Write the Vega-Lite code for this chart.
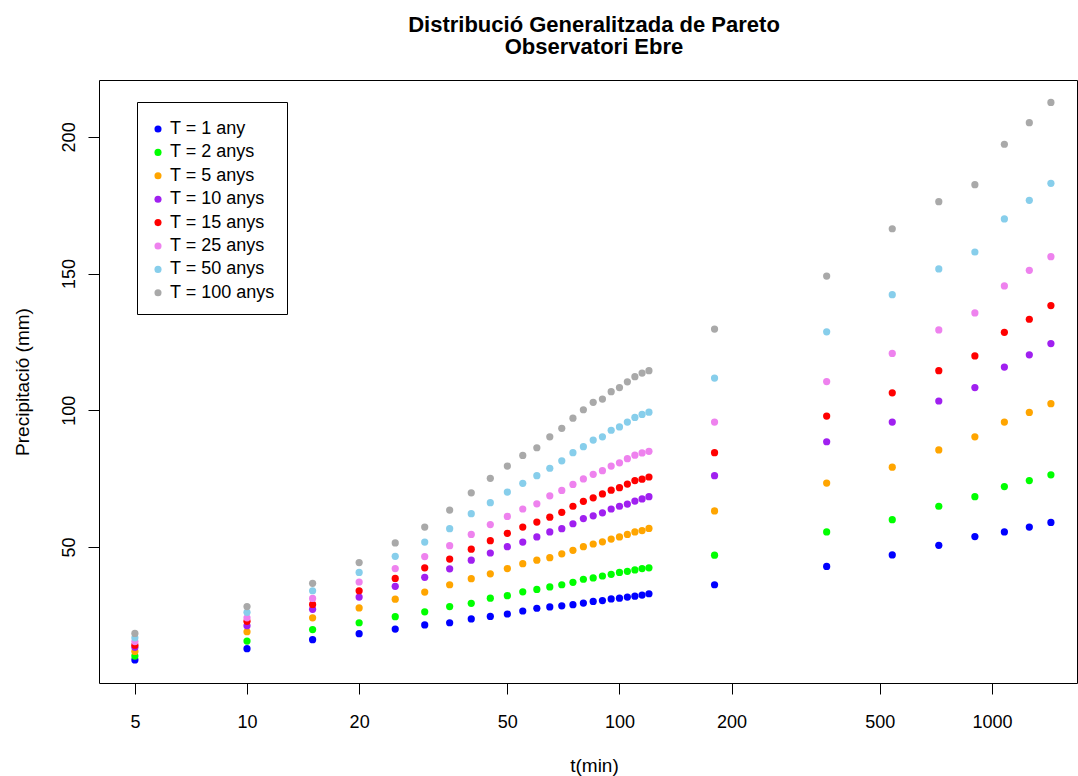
{
  "$schema": "https://vega.github.io/schema/vega-lite/v6.json",
  "width": 978,
  "height": 603,
  "autosize": "none",
  "padding": {"left": 99, "top": 80, "right": 1, "bottom": 93},
  "background": "white",
  "config": {
    "font": "Liberation Sans",
    "view": {"stroke": "black", "strokeWidth": 1}
  },
  "title": {
    "text": ["Distribució Generalitzada de Pareto", "Observatori Ebre"],
    "anchor": "middle",
    "frame": "group",
    "dx": 6,
    "fontSize": 22,
    "fontWeight": "bold",
    "font": "Liberation Sans",
    "color": "black",
    "lineHeight": 22.5,
    "offset": 21
  },
  "data": {"values": [
    {"t":5,"T":"T = 1 any","P":8.7},{"t":10,"T":"T = 1 any","P":12.8},{"t":15,"T":"T = 1 any","P":16.1},{"t":20,"T":"T = 1 any","P":18.3},{"t":25,"T":"T = 1 any","P":20.0},{"t":30,"T":"T = 1 any","P":21.5},{"t":35,"T":"T = 1 any","P":22.3},{"t":40,"T":"T = 1 any","P":23.7},{"t":45,"T":"T = 1 any","P":24.6},{"t":50,"T":"T = 1 any","P":25.5},{"t":55,"T":"T = 1 any","P":26.6},{"t":60,"T":"T = 1 any","P":27.6},{"t":65,"T":"T = 1 any","P":28.1},{"t":70,"T":"T = 1 any","P":28.5},{"t":75,"T":"T = 1 any","P":28.9},{"t":80,"T":"T = 1 any","P":29.5},{"t":85,"T":"T = 1 any","P":30.1},{"t":90,"T":"T = 1 any","P":30.4},{"t":95,"T":"T = 1 any","P":31.0},{"t":100,"T":"T = 1 any","P":31.3},{"t":105,"T":"T = 1 any","P":31.7},{"t":110,"T":"T = 1 any","P":32.0},{"t":115,"T":"T = 1 any","P":32.4},{"t":120,"T":"T = 1 any","P":32.9},{"t":180,"T":"T = 1 any","P":36.2},{"t":360,"T":"T = 1 any","P":42.9},{"t":540,"T":"T = 1 any","P":47.1},{"t":720,"T":"T = 1 any","P":50.6},{"t":900,"T":"T = 1 any","P":53.8},{"t":1080,"T":"T = 1 any","P":55.5},{"t":1260,"T":"T = 1 any","P":57.3},{"t":1440,"T":"T = 1 any","P":59.0},
    {"t":5,"T":"T = 2 anys","P":10.1},{"t":10,"T":"T = 2 anys","P":15.6},{"t":15,"T":"T = 2 anys","P":19.8},{"t":20,"T":"T = 2 anys","P":22.3},{"t":25,"T":"T = 2 anys","P":24.5},{"t":30,"T":"T = 2 anys","P":26.3},{"t":35,"T":"T = 2 anys","P":28.2},{"t":40,"T":"T = 2 anys","P":29.4},{"t":45,"T":"T = 2 anys","P":31.3},{"t":50,"T":"T = 2 anys","P":32.2},{"t":55,"T":"T = 2 anys","P":33.6},{"t":60,"T":"T = 2 anys","P":34.5},{"t":65,"T":"T = 2 anys","P":35.4},{"t":70,"T":"T = 2 anys","P":36.2},{"t":75,"T":"T = 2 anys","P":37.1},{"t":80,"T":"T = 2 anys","P":38.2},{"t":85,"T":"T = 2 anys","P":38.7},{"t":90,"T":"T = 2 anys","P":39.4},{"t":95,"T":"T = 2 anys","P":40.0},{"t":100,"T":"T = 2 anys","P":40.7},{"t":105,"T":"T = 2 anys","P":41.1},{"t":110,"T":"T = 2 anys","P":41.6},{"t":115,"T":"T = 2 anys","P":42.1},{"t":120,"T":"T = 2 anys","P":42.4},{"t":180,"T":"T = 2 anys","P":47.0},{"t":360,"T":"T = 2 anys","P":55.5},{"t":540,"T":"T = 2 anys","P":60.0},{"t":720,"T":"T = 2 anys","P":64.9},{"t":900,"T":"T = 2 anys","P":68.4},{"t":1080,"T":"T = 2 anys","P":72.1},{"t":1260,"T":"T = 2 anys","P":74.3},{"t":1440,"T":"T = 2 anys","P":76.4},
    {"t":5,"T":"T = 5 anys","P":11.8},{"t":10,"T":"T = 5 anys","P":19.0},{"t":15,"T":"T = 5 anys","P":24.1},{"t":20,"T":"T = 5 anys","P":27.7},{"t":25,"T":"T = 5 anys","P":30.9},{"t":30,"T":"T = 5 anys","P":33.5},{"t":35,"T":"T = 5 anys","P":36.2},{"t":40,"T":"T = 5 anys","P":38.4},{"t":45,"T":"T = 5 anys","P":40.2},{"t":50,"T":"T = 5 anys","P":42.1},{"t":55,"T":"T = 5 anys","P":43.9},{"t":60,"T":"T = 5 anys","P":45.2},{"t":65,"T":"T = 5 anys","P":46.1},{"t":70,"T":"T = 5 anys","P":47.5},{"t":75,"T":"T = 5 anys","P":48.8},{"t":80,"T":"T = 5 anys","P":50.1},{"t":85,"T":"T = 5 anys","P":51.1},{"t":90,"T":"T = 5 anys","P":51.9},{"t":95,"T":"T = 5 anys","P":52.9},{"t":100,"T":"T = 5 anys","P":53.7},{"t":105,"T":"T = 5 anys","P":54.6},{"t":110,"T":"T = 5 anys","P":55.5},{"t":115,"T":"T = 5 anys","P":56.0},{"t":120,"T":"T = 5 anys","P":56.8},{"t":180,"T":"T = 5 anys","P":63.2},{"t":360,"T":"T = 5 anys","P":73.4},{"t":540,"T":"T = 5 anys","P":79.2},{"t":720,"T":"T = 5 anys","P":85.5},{"t":900,"T":"T = 5 anys","P":90.3},{"t":1080,"T":"T = 5 anys","P":95.7},{"t":1260,"T":"T = 5 anys","P":99.2},{"t":1440,"T":"T = 5 anys","P":102.4},
    {"t":5,"T":"T = 10 anys","P":13.3},{"t":10,"T":"T = 10 anys","P":21.2},{"t":15,"T":"T = 10 anys","P":27.2},{"t":20,"T":"T = 10 anys","P":31.7},{"t":25,"T":"T = 10 anys","P":35.6},{"t":30,"T":"T = 10 anys","P":38.9},{"t":35,"T":"T = 10 anys","P":42.0},{"t":40,"T":"T = 10 anys","P":45.2},{"t":45,"T":"T = 10 anys","P":47.8},{"t":50,"T":"T = 10 anys","P":50.1},{"t":55,"T":"T = 10 anys","P":51.8},{"t":60,"T":"T = 10 anys","P":53.7},{"t":65,"T":"T = 10 anys","P":55.5},{"t":70,"T":"T = 10 anys","P":56.7},{"t":75,"T":"T = 10 anys","P":58.5},{"t":80,"T":"T = 10 anys","P":60.4},{"t":85,"T":"T = 10 anys","P":61.4},{"t":90,"T":"T = 10 anys","P":62.5},{"t":95,"T":"T = 10 anys","P":63.9},{"t":100,"T":"T = 10 anys","P":64.9},{"t":105,"T":"T = 10 anys","P":65.7},{"t":110,"T":"T = 10 anys","P":66.8},{"t":115,"T":"T = 10 anys","P":67.6},{"t":120,"T":"T = 10 anys","P":68.4},{"t":180,"T":"T = 10 anys","P":76.1},{"t":360,"T":"T = 10 anys","P":88.5},{"t":540,"T":"T = 10 anys","P":95.7},{"t":720,"T":"T = 10 anys","P":103.4},{"t":900,"T":"T = 10 anys","P":108.3},{"t":1080,"T":"T = 10 anys","P":115.8},{"t":1260,"T":"T = 10 anys","P":120.3},{"t":1440,"T":"T = 10 anys","P":124.4},
    {"t":5,"T":"T = 15 anys","P":14.1},{"t":10,"T":"T = 15 anys","P":22.8},{"t":15,"T":"T = 15 anys","P":29.0},{"t":20,"T":"T = 15 anys","P":34.0},{"t":25,"T":"T = 15 anys","P":38.5},{"t":30,"T":"T = 15 anys","P":42.4},{"t":35,"T":"T = 15 anys","P":45.6},{"t":40,"T":"T = 15 anys","P":49.2},{"t":45,"T":"T = 15 anys","P":52.3},{"t":50,"T":"T = 15 anys","P":55.0},{"t":55,"T":"T = 15 anys","P":57.3},{"t":60,"T":"T = 15 anys","P":59.1},{"t":65,"T":"T = 15 anys","P":60.9},{"t":70,"T":"T = 15 anys","P":62.7},{"t":75,"T":"T = 15 anys","P":64.9},{"t":80,"T":"T = 15 anys","P":66.7},{"t":85,"T":"T = 15 anys","P":68.0},{"t":90,"T":"T = 15 anys","P":69.4},{"t":95,"T":"T = 15 anys","P":70.8},{"t":100,"T":"T = 15 anys","P":71.7},{"t":105,"T":"T = 15 anys","P":73.0},{"t":110,"T":"T = 15 anys","P":74.3},{"t":115,"T":"T = 15 anys","P":74.8},{"t":120,"T":"T = 15 anys","P":75.6},{"t":180,"T":"T = 15 anys","P":84.5},{"t":360,"T":"T = 15 anys","P":97.9},{"t":540,"T":"T = 15 anys","P":106.4},{"t":720,"T":"T = 15 anys","P":114.5},{"t":900,"T":"T = 15 anys","P":119.9},{"t":1080,"T":"T = 15 anys","P":128.5},{"t":1260,"T":"T = 15 anys","P":133.3},{"t":1440,"T":"T = 15 anys","P":138.3},
    {"t":5,"T":"T = 25 anys","P":15.4},{"t":10,"T":"T = 25 anys","P":24.1},{"t":15,"T":"T = 25 anys","P":31.2},{"t":20,"T":"T = 25 anys","P":37.2},{"t":25,"T":"T = 25 anys","P":42.1},{"t":30,"T":"T = 25 anys","P":46.5},{"t":35,"T":"T = 25 anys","P":50.5},{"t":40,"T":"T = 25 anys","P":54.6},{"t":45,"T":"T = 25 anys","P":58.2},{"t":50,"T":"T = 25 anys","P":61.2},{"t":55,"T":"T = 25 anys","P":63.9},{"t":60,"T":"T = 25 anys","P":65.8},{"t":65,"T":"T = 25 anys","P":68.7},{"t":70,"T":"T = 25 anys","P":70.7},{"t":75,"T":"T = 25 anys","P":72.9},{"t":80,"T":"T = 25 anys","P":74.9},{"t":85,"T":"T = 25 anys","P":76.6},{"t":90,"T":"T = 25 anys","P":77.9},{"t":95,"T":"T = 25 anys","P":79.6},{"t":100,"T":"T = 25 anys","P":80.8},{"t":105,"T":"T = 25 anys","P":82.3},{"t":110,"T":"T = 25 anys","P":83.6},{"t":115,"T":"T = 25 anys","P":84.4},{"t":120,"T":"T = 25 anys","P":85.0},{"t":180,"T":"T = 25 anys","P":95.7},{"t":360,"T":"T = 25 anys","P":110.5},{"t":540,"T":"T = 25 anys","P":120.8},{"t":720,"T":"T = 25 anys","P":129.4},{"t":900,"T":"T = 25 anys","P":135.6},{"t":1080,"T":"T = 25 anys","P":145.5},{"t":1260,"T":"T = 25 anys","P":151.2},{"t":1440,"T":"T = 25 anys","P":156.2},
    {"t":5,"T":"T = 50 anys","P":16.8},{"t":10,"T":"T = 50 anys","P":26.1},{"t":15,"T":"T = 50 anys","P":34.0},{"t":20,"T":"T = 50 anys","P":40.7},{"t":25,"T":"T = 50 anys","P":46.6},{"t":30,"T":"T = 50 anys","P":51.8},{"t":35,"T":"T = 50 anys","P":56.7},{"t":40,"T":"T = 50 anys","P":62.2},{"t":45,"T":"T = 50 anys","P":66.2},{"t":50,"T":"T = 50 anys","P":70.1},{"t":55,"T":"T = 50 anys","P":73.3},{"t":60,"T":"T = 50 anys","P":76.1},{"t":65,"T":"T = 50 anys","P":78.8},{"t":70,"T":"T = 50 anys","P":81.5},{"t":75,"T":"T = 50 anys","P":84.5},{"t":80,"T":"T = 50 anys","P":86.7},{"t":85,"T":"T = 50 anys","P":89.1},{"t":90,"T":"T = 50 anys","P":90.3},{"t":95,"T":"T = 50 anys","P":92.7},{"t":100,"T":"T = 50 anys","P":93.9},{"t":105,"T":"T = 50 anys","P":95.7},{"t":110,"T":"T = 50 anys","P":97.4},{"t":115,"T":"T = 50 anys","P":98.5},{"t":120,"T":"T = 50 anys","P":99.3},{"t":180,"T":"T = 50 anys","P":111.8},{"t":360,"T":"T = 50 anys","P":128.7},{"t":540,"T":"T = 50 anys","P":142.3},{"t":720,"T":"T = 50 anys","P":151.7},{"t":900,"T":"T = 50 anys","P":157.9},{"t":1080,"T":"T = 50 anys","P":170.0},{"t":1260,"T":"T = 50 anys","P":176.8},{"t":1440,"T":"T = 50 anys","P":183.0},
    {"t":5,"T":"T = 100 anys","P":18.4},{"t":10,"T":"T = 100 anys","P":28.2},{"t":15,"T":"T = 100 anys","P":36.7},{"t":20,"T":"T = 100 anys","P":44.3},{"t":25,"T":"T = 100 anys","P":51.5},{"t":30,"T":"T = 100 anys","P":57.3},{"t":35,"T":"T = 100 anys","P":63.5},{"t":40,"T":"T = 100 anys","P":69.8},{"t":45,"T":"T = 100 anys","P":75.1},{"t":50,"T":"T = 100 anys","P":79.6},{"t":55,"T":"T = 100 anys","P":83.5},{"t":60,"T":"T = 100 anys","P":86.3},{"t":65,"T":"T = 100 anys","P":90.3},{"t":70,"T":"T = 100 anys","P":93.4},{"t":75,"T":"T = 100 anys","P":97.1},{"t":80,"T":"T = 100 anys","P":100.2},{"t":85,"T":"T = 100 anys","P":102.9},{"t":90,"T":"T = 100 anys","P":104.1},{"t":95,"T":"T = 100 anys","P":106.8},{"t":100,"T":"T = 100 anys","P":108.3},{"t":105,"T":"T = 100 anys","P":110.4},{"t":110,"T":"T = 100 anys","P":112.3},{"t":115,"T":"T = 100 anys","P":113.6},{"t":120,"T":"T = 100 anys","P":114.5},{"t":180,"T":"T = 100 anys","P":129.7},{"t":360,"T":"T = 100 anys","P":149.1},{"t":540,"T":"T = 100 anys","P":166.4},{"t":720,"T":"T = 100 anys","P":176.3},{"t":900,"T":"T = 100 anys","P":182.5},{"t":1080,"T":"T = 100 anys","P":197.3},{"t":1260,"T":"T = 100 anys","P":205.2},{"t":1440,"T":"T = 100 anys","P":212.6}
  ]},
  "mark": {"type": "point", "filled": true, "shape": "circle", "size": 52, "opacity": 1},
  "encoding": {
    "x": {
      "field": "t", "type": "quantitative",
      "scale": {"type": "log", "domain": [4.005, 1692], "nice": false, "zero": false},
      "axis": {
        "title": "t(min)", "values": [5, 10, 20, 50, 100, 200, 500, 1000],
        "format": "d", "grid": false, "domain": false,
        "tickColor": "black", "tickSize": 11, "tickWidth": 1,
        "labelFontSize": 18, "labelColor": "black", "labelFont": "Liberation Sans",
        "labelBaseline": "alphabetic", "labelPadding": 33, "labelFlush": false, "labelOverlap": false,
        "titleFontSize": 19, "titleFontWeight": "normal", "titleColor": "black", "titleFont": "Liberation Sans",
        "titleBaseline": "alphabetic", "titleX": 495, "titleY": 88, "titleAlign": "center"
      }
    },
    "y": {
      "field": "P", "type": "quantitative",
      "scale": {"domain": [0.26, 220.8], "nice": false, "zero": false},
      "axis": {
        "title": "Precipitació (mm)", "values": [50, 100, 150, 200],
        "grid": false, "domain": false,
        "tickColor": "black", "tickSize": 11, "tickWidth": 1,
        "labelFontSize": 18, "labelColor": "black", "labelFont": "Liberation Sans",
        "labelAngle": -90, "labelAlign": "center", "labelBaseline": "alphabetic", "labelPadding": 14,
        "labelFlush": false, "labelOverlap": false,
        "titleFontSize": 19, "titleFontWeight": "normal", "titleColor": "black", "titleFont": "Liberation Sans",
        "titleAngle": -90, "titleBaseline": "alphabetic", "titleAlign": "center", "titleX": -71, "titleY": 301.5
      }
    },
    "color": {
      "field": "T", "type": "nominal",
      "scale": {
        "domain": ["T = 1 any", "T = 2 anys", "T = 5 anys", "T = 10 anys", "T = 15 anys", "T = 25 anys", "T = 50 anys", "T = 100 anys"],
        "range": ["#0000FF", "#00FF00", "#FFA500", "#A020F0", "#FF0000", "#EE82EE", "#87CEEB", "#A9A9A9"]
      },
      "legend": {
        "title": " ", "titleFontSize": 1, "titlePadding": 5,
        "orient": "none", "legendX": 38, "legendY": 22,
        "strokeColor": "black", "fillColor": "white", "padding": 12,
        "labelFontSize": 18, "labelFont": "Liberation Sans", "labelColor": "black",
        "labelOffset": 3, "rowPadding": 5.4, "symbolSize": 50, "symbolType": "circle",
        "symbolStrokeWidth": 0, "cornerRadius": 0, "offset": 0
      }
    }
  }
}
